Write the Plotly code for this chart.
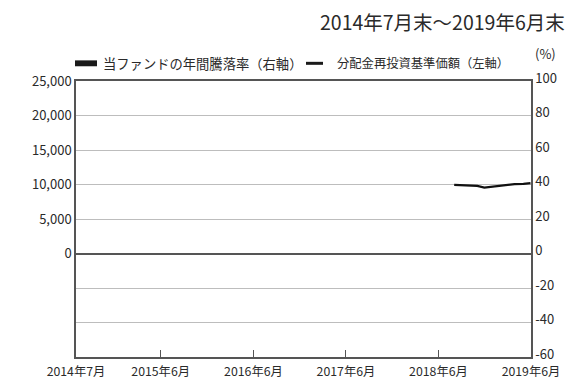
import plotly.graph_objects as go

# Data
nav_dates = ["2018-08-31", "2018-09-28", "2018-10-31", "2018-11-30", "2018-12-28",
             "2019-01-31", "2019-02-28", "2019-03-29", "2019-04-26", "2019-05-31", "2019-06-28"]
nav_values = [9950, 9900, 9850, 9800, 9550, 9700, 9850, 9950, 10050, 10100, 10200]

bar_dates = []          # annual returns (none shown in period)
bar_values = []

series_names = ["当ファンドの年間騰落率（右軸）", "分配金再投資基準価額（左軸）"]

tick_dates = ["2014-07-31", "2015-06-30", "2016-06-30", "2017-06-30", "2018-06-30", "2019-06-30"]
tick_labels = ["2014年7月", "2015年6月", "2016年6月", "2017年6月", "2018年6月", "2019年6月"]

left_ticks = [0, 5000, 10000, 15000, 20000, 25000]
left_labels = ["0", "5,000", "10,000", "15,000", "20,000", "25,000"]

right_ticks = [-60, -40, -20, 0, 20, 40, 60, 80, 100]
right_labels = ["-60", "-40", "-20", "0", "20", "40", "60", "80", "100"]

FONT = "Noto Sans CJK JP"
TXT = "#2a2a2a"

# plot area in pixels
L, R, T, B = 76, 531, 81, 362
W, H = R - L, B - T


def px(x):
    return (x - L) / W


def py(y):
    return (B - y) / H


fig = go.Figure()
fig.add_trace(go.Bar(x=bar_dates, y=bar_values, name=series_names[0],
                     marker_color="#222222", yaxis="y2"))
fig.add_trace(go.Scatter(x=nav_dates, y=nav_values, mode="lines",
                         name=series_names[1],
                         line=dict(color="#111111", width=2.2)))

shapes = [
    # legend keys
    dict(type="rect", xref="paper", yref="paper", x0=px(75), x1=px(97),
         y0=py(66), y1=py(60), fillcolor="#1a1a1a", line=dict(width=0)),
    dict(type="line", xref="paper", yref="paper", x0=px(306), x1=px(323),
         y0=py(63), y1=py(63), line=dict(color="#1a1a1a", width=3)),
]

annotations = [
    dict(text="2014年7月末～2019年6月末", x=px(318), xref="paper", xanchor="left",
         y=py(20), yref="paper", yanchor="middle", showarrow=False,
         font=dict(size=19.5, color=TXT)),
    dict(text="(%)", x=px(533), xref="paper", xanchor="left",
         y=py(53), yref="paper", yanchor="middle", showarrow=False,
         font=dict(size=13, color=TXT)),
    dict(text=series_names[0], x=px(101), xref="paper", xanchor="left",
         y=py(63), yref="paper", yanchor="middle", showarrow=False,
         font=dict(size=13.3, color=TXT)),
    dict(text=series_names[1], x=px(335), xref="paper", xanchor="left",
         y=py(63), yref="paper", yanchor="middle", showarrow=False,
         font=dict(size=12.3, color=TXT)),
]

fig.update_layout(
    width=573, height=392,
    margin=dict(l=L, r=573 - R, t=T, b=392 - B),
    paper_bgcolor="white", plot_bgcolor="white",
    font=dict(family=FONT, size=12, color=TXT),
    showlegend=False,
    xaxis=dict(type="date", range=["2014-07-31", "2019-06-30"],
               tickvals=tick_dates, ticktext=tick_labels,
               ticks="inside", ticklen=7, tickcolor="#555555", tickwidth=1.3,
               ticklabelstandoff=2,
               showgrid=False, showline=True, linecolor="#555555", linewidth=1.5,
               mirror=True, tickfont=dict(size=12.3)),
    yaxis=dict(range=[-15000, 25000], tickvals=left_ticks, ticktext=left_labels,
               showgrid=False, zeroline=False, showline=True, linecolor="#555555",
               linewidth=1.5, ticks="", tickfont=dict(size=13)),
    yaxis2=dict(range=[-60, 100], tickvals=right_ticks, ticktext=right_labels,
                overlaying="y", side="right", ticklabelshift=-3,
                showgrid=True, gridcolor="#bdbdbd", gridwidth=1.3,
                zeroline=True, zerolinecolor="#555555", zerolinewidth=1.6,
                showline=True, linecolor="#555555", linewidth=1.5,
                ticks="", tickfont=dict(size=13)),
    shapes=shapes,
    annotations=annotations,
)

fig.write_html("out.html")
